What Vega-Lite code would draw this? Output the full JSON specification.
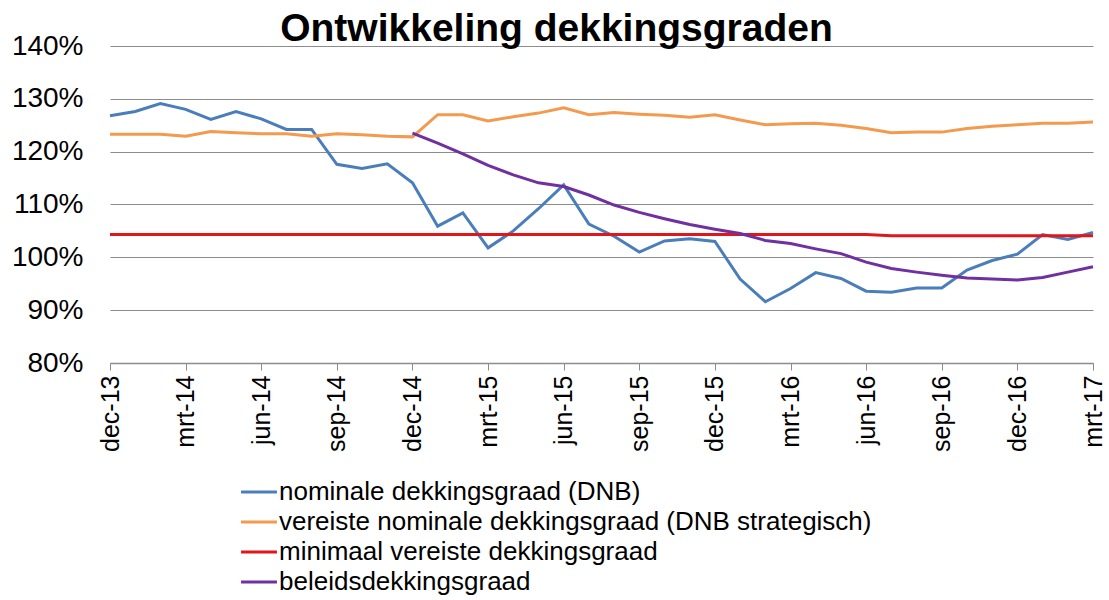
{
  "$schema": "https://vega.github.io/schema/vega-lite/v6.json",
  "autosize": {"type": "none"},
  "padding": {"left": 110, "top": 46, "right": 16, "bottom": 237},
  "width": 983,
  "height": 317,
  "background": "white",
  "title": {
    "text": "Ontwikkeling dekkingsgraden",
    "font": "Liberation Sans",
    "fontSize": 39,
    "fontWeight": "bold",
    "color": "#000000",
    "anchor": "middle",
    "dx": -45,
    "dy": 17,
    "offset": 0
  },
  "config": {
    "view": {"stroke": null},
    "font": "Liberation Sans"
  },
  "data": {
    "values": [
      {"m": "dec-13", "nominale dekkingsgraad (DNB)": 1.268, "vereiste nominale dekkingsgraad (DNB strategisch)": 1.233, "minimaal vereiste dekkingsgraad": 1.043, "beleidsdekkingsgraad": null},
      {"m": "jan-14", "nominale dekkingsgraad (DNB)": 1.276, "vereiste nominale dekkingsgraad (DNB strategisch)": 1.233, "minimaal vereiste dekkingsgraad": 1.043, "beleidsdekkingsgraad": null},
      {"m": "feb-14", "nominale dekkingsgraad (DNB)": 1.291, "vereiste nominale dekkingsgraad (DNB strategisch)": 1.233, "minimaal vereiste dekkingsgraad": 1.043, "beleidsdekkingsgraad": null},
      {"m": "mrt-14", "nominale dekkingsgraad (DNB)": 1.280, "vereiste nominale dekkingsgraad (DNB strategisch)": 1.229, "minimaal vereiste dekkingsgraad": 1.043, "beleidsdekkingsgraad": null},
      {"m": "apr-14", "nominale dekkingsgraad (DNB)": 1.261, "vereiste nominale dekkingsgraad (DNB strategisch)": 1.238, "minimaal vereiste dekkingsgraad": 1.043, "beleidsdekkingsgraad": null},
      {"m": "mei-14", "nominale dekkingsgraad (DNB)": 1.276, "vereiste nominale dekkingsgraad (DNB strategisch)": 1.236, "minimaal vereiste dekkingsgraad": 1.043, "beleidsdekkingsgraad": null},
      {"m": "jun-14", "nominale dekkingsgraad (DNB)": 1.262, "vereiste nominale dekkingsgraad (DNB strategisch)": 1.234, "minimaal vereiste dekkingsgraad": 1.043, "beleidsdekkingsgraad": null},
      {"m": "jul-14", "nominale dekkingsgraad (DNB)": 1.242, "vereiste nominale dekkingsgraad (DNB strategisch)": 1.234, "minimaal vereiste dekkingsgraad": 1.043, "beleidsdekkingsgraad": null},
      {"m": "aug-14", "nominale dekkingsgraad (DNB)": 1.242, "vereiste nominale dekkingsgraad (DNB strategisch)": 1.229, "minimaal vereiste dekkingsgraad": 1.043, "beleidsdekkingsgraad": null},
      {"m": "sep-14", "nominale dekkingsgraad (DNB)": 1.176, "vereiste nominale dekkingsgraad (DNB strategisch)": 1.234, "minimaal vereiste dekkingsgraad": 1.043, "beleidsdekkingsgraad": null},
      {"m": "okt-14", "nominale dekkingsgraad (DNB)": 1.168, "vereiste nominale dekkingsgraad (DNB strategisch)": 1.232, "minimaal vereiste dekkingsgraad": 1.043, "beleidsdekkingsgraad": null},
      {"m": "nov-14", "nominale dekkingsgraad (DNB)": 1.177, "vereiste nominale dekkingsgraad (DNB strategisch)": 1.229, "minimaal vereiste dekkingsgraad": 1.043, "beleidsdekkingsgraad": null},
      {"m": "dec-14", "nominale dekkingsgraad (DNB)": 1.141, "vereiste nominale dekkingsgraad (DNB strategisch)": 1.228, "minimaal vereiste dekkingsgraad": 1.043, "beleidsdekkingsgraad": 1.235},
      {"m": "jan-15", "nominale dekkingsgraad (DNB)": 1.059, "vereiste nominale dekkingsgraad (DNB strategisch)": 1.270, "minimaal vereiste dekkingsgraad": 1.043, "beleidsdekkingsgraad": 1.216},
      {"m": "feb-15", "nominale dekkingsgraad (DNB)": 1.084, "vereiste nominale dekkingsgraad (DNB strategisch)": 1.270, "minimaal vereiste dekkingsgraad": 1.043, "beleidsdekkingsgraad": 1.196},
      {"m": "mrt-15", "nominale dekkingsgraad (DNB)": 1.018, "vereiste nominale dekkingsgraad (DNB strategisch)": 1.258, "minimaal vereiste dekkingsgraad": 1.043, "beleidsdekkingsgraad": 1.174},
      {"m": "apr-15", "nominale dekkingsgraad (DNB)": 1.050, "vereiste nominale dekkingsgraad (DNB strategisch)": 1.266, "minimaal vereiste dekkingsgraad": 1.043, "beleidsdekkingsgraad": 1.156},
      {"m": "mei-15", "nominale dekkingsgraad (DNB)": 1.092, "vereiste nominale dekkingsgraad (DNB strategisch)": 1.273, "minimaal vereiste dekkingsgraad": 1.043, "beleidsdekkingsgraad": 1.141},
      {"m": "jun-15", "nominale dekkingsgraad (DNB)": 1.137, "vereiste nominale dekkingsgraad (DNB strategisch)": 1.283, "minimaal vereiste dekkingsgraad": 1.043, "beleidsdekkingsgraad": 1.134},
      {"m": "jul-15", "nominale dekkingsgraad (DNB)": 1.063, "vereiste nominale dekkingsgraad (DNB strategisch)": 1.270, "minimaal vereiste dekkingsgraad": 1.043, "beleidsdekkingsgraad": 1.118},
      {"m": "aug-15", "nominale dekkingsgraad (DNB)": 1.040, "vereiste nominale dekkingsgraad (DNB strategisch)": 1.274, "minimaal vereiste dekkingsgraad": 1.043, "beleidsdekkingsgraad": 1.099},
      {"m": "sep-15", "nominale dekkingsgraad (DNB)": 1.010, "vereiste nominale dekkingsgraad (DNB strategisch)": 1.271, "minimaal vereiste dekkingsgraad": 1.043, "beleidsdekkingsgraad": 1.085},
      {"m": "okt-15", "nominale dekkingsgraad (DNB)": 1.031, "vereiste nominale dekkingsgraad (DNB strategisch)": 1.269, "minimaal vereiste dekkingsgraad": 1.043, "beleidsdekkingsgraad": 1.073},
      {"m": "nov-15", "nominale dekkingsgraad (DNB)": 1.035, "vereiste nominale dekkingsgraad (DNB strategisch)": 1.265, "minimaal vereiste dekkingsgraad": 1.043, "beleidsdekkingsgraad": 1.062},
      {"m": "dec-15", "nominale dekkingsgraad (DNB)": 1.030, "vereiste nominale dekkingsgraad (DNB strategisch)": 1.270, "minimaal vereiste dekkingsgraad": 1.043, "beleidsdekkingsgraad": 1.053},
      {"m": "jan-16", "nominale dekkingsgraad (DNB)": 0.959, "vereiste nominale dekkingsgraad (DNB strategisch)": 1.260, "minimaal vereiste dekkingsgraad": 1.043, "beleidsdekkingsgraad": 1.045},
      {"m": "feb-16", "nominale dekkingsgraad (DNB)": 0.916, "vereiste nominale dekkingsgraad (DNB strategisch)": 1.251, "minimaal vereiste dekkingsgraad": 1.043, "beleidsdekkingsgraad": 1.032},
      {"m": "mrt-16", "nominale dekkingsgraad (DNB)": 0.941, "vereiste nominale dekkingsgraad (DNB strategisch)": 1.253, "minimaal vereiste dekkingsgraad": 1.043, "beleidsdekkingsgraad": 1.026},
      {"m": "apr-16", "nominale dekkingsgraad (DNB)": 0.971, "vereiste nominale dekkingsgraad (DNB strategisch)": 1.254, "minimaal vereiste dekkingsgraad": 1.043, "beleidsdekkingsgraad": 1.016},
      {"m": "mei-16", "nominale dekkingsgraad (DNB)": 0.960, "vereiste nominale dekkingsgraad (DNB strategisch)": 1.250, "minimaal vereiste dekkingsgraad": 1.043, "beleidsdekkingsgraad": 1.007},
      {"m": "jun-16", "nominale dekkingsgraad (DNB)": 0.936, "vereiste nominale dekkingsgraad (DNB strategisch)": 1.244, "minimaal vereiste dekkingsgraad": 1.043, "beleidsdekkingsgraad": 0.991},
      {"m": "jul-16", "nominale dekkingsgraad (DNB)": 0.934, "vereiste nominale dekkingsgraad (DNB strategisch)": 1.236, "minimaal vereiste dekkingsgraad": 1.041, "beleidsdekkingsgraad": 0.979},
      {"m": "aug-16", "nominale dekkingsgraad (DNB)": 0.942, "vereiste nominale dekkingsgraad (DNB strategisch)": 1.237, "minimaal vereiste dekkingsgraad": 1.041, "beleidsdekkingsgraad": 0.972},
      {"m": "sep-16", "nominale dekkingsgraad (DNB)": 0.942, "vereiste nominale dekkingsgraad (DNB strategisch)": 1.237, "minimaal vereiste dekkingsgraad": 1.041, "beleidsdekkingsgraad": 0.966},
      {"m": "okt-16", "nominale dekkingsgraad (DNB)": 0.976, "vereiste nominale dekkingsgraad (DNB strategisch)": 1.244, "minimaal vereiste dekkingsgraad": 1.041, "beleidsdekkingsgraad": 0.961},
      {"m": "nov-16", "nominale dekkingsgraad (DNB)": 0.994, "vereiste nominale dekkingsgraad (DNB strategisch)": 1.248, "minimaal vereiste dekkingsgraad": 1.041, "beleidsdekkingsgraad": 0.959},
      {"m": "dec-16", "nominale dekkingsgraad (DNB)": 1.006, "vereiste nominale dekkingsgraad (DNB strategisch)": 1.251, "minimaal vereiste dekkingsgraad": 1.041, "beleidsdekkingsgraad": 0.957},
      {"m": "jan-17", "nominale dekkingsgraad (DNB)": 1.043, "vereiste nominale dekkingsgraad (DNB strategisch)": 1.254, "minimaal vereiste dekkingsgraad": 1.041, "beleidsdekkingsgraad": 0.962},
      {"m": "feb-17", "nominale dekkingsgraad (DNB)": 1.034, "vereiste nominale dekkingsgraad (DNB strategisch)": 1.254, "minimaal vereiste dekkingsgraad": 1.041, "beleidsdekkingsgraad": 0.972},
      {"m": "mrt-17", "nominale dekkingsgraad (DNB)": 1.047, "vereiste nominale dekkingsgraad (DNB strategisch)": 1.256, "minimaal vereiste dekkingsgraad": 1.041, "beleidsdekkingsgraad": 0.982}
    ]
  },
  "transform": [
    {"fold": ["nominale dekkingsgraad (DNB)", "vereiste nominale dekkingsgraad (DNB strategisch)", "minimaal vereiste dekkingsgraad", "beleidsdekkingsgraad"], "as": ["serie", "waarde"]}
  ],
  "mark": {"type": "line", "strokeWidth": 3, "interpolate": "linear"},
  "encoding": {
    "x": {
      "field": "m",
      "type": "ordinal",
      "scale": {
        "type": "point",
        "padding": 0,
        "domain": ["dec-13","jan-14","feb-14","mrt-14","apr-14","mei-14","jun-14","jul-14","aug-14","sep-14","okt-14","nov-14","dec-14","jan-15","feb-15","mrt-15","apr-15","mei-15","jun-15","jul-15","aug-15","sep-15","okt-15","nov-15","dec-15","jan-16","feb-16","mrt-16","apr-16","mei-16","jun-16","jul-16","aug-16","sep-16","okt-16","nov-16","dec-16","jan-17","feb-17","mrt-17"]
      },
      "axis": {
        "title": null,
        "values": ["dec-13","mrt-14","jun-14","sep-14","dec-14","mrt-15","jun-15","sep-15","dec-15","mrt-16","jun-16","sep-16","dec-16","mrt-17"],
        "labelAngle": 270,
        "labelAlign": "right",
        "labelBaseline": "middle",
        "labelFontSize": 25,
        "labelColor": "#000000",
        "labelFont": "Liberation Sans",
        "labelPadding": 5,
        "tickSize": 7,
        "tickColor": "#8c8c8c",
        "domainColor": "#8c8c8c",
        "domainWidth": 1.5,
        "grid": false
      }
    },
    "y": {
      "field": "waarde",
      "type": "quantitative",
      "scale": {"domain": [0.8, 1.4], "nice": false, "zero": false},
      "axis": {
        "title": null,
        "format": ".0%",
        "values": [0.8, 0.9, 1.0, 1.1, 1.2, 1.3, 1.4],
        "labelFontSize": 28,
        "labelColor": "#000000",
        "labelFont": "Liberation Sans",
        "labelPadding": 27,
        "ticks": false,
        "domain": false,
        "grid": true,
        "gridColor": "#8c8c8c",
        "gridWidth": 1.2
      }
    },
    "color": {
      "field": "serie",
      "type": "nominal",
      "sort": ["nominale dekkingsgraad (DNB)", "vereiste nominale dekkingsgraad (DNB strategisch)", "minimaal vereiste dekkingsgraad", "beleidsdekkingsgraad"],
      "scale": {
        "domain": ["nominale dekkingsgraad (DNB)", "vereiste nominale dekkingsgraad (DNB strategisch)", "minimaal vereiste dekkingsgraad", "beleidsdekkingsgraad"],
        "range": ["#4a7ebb", "#f39a4e", "#e0161b", "#7030a0"]
      },
      "legend": {
        "title": null,
        "orient": "none",
        "legendX": 134,
        "legendY": 431,
        "direction": "vertical",
        "symbolType": "M-1.33,0H1.33",
        "symbolSize": 729,
        "symbolStrokeWidth": 3,
        "symbolFillColor": "transparent",
        "labelFontSize": 26,
        "labelFont": "Liberation Sans",
        "labelColor": "#000000",
        "labelOffset": 5,
        "labelLimit": 800,
        "rowPadding": 2,
        "padding": 0
      }
    }
  }
}
